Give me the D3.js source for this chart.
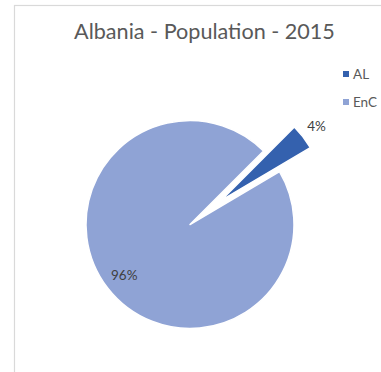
<!DOCTYPE html>
<html>
<head>
<meta charset="utf-8">
<script src="https://cdn.jsdelivr.net/npm/d3@7"></script>
<style>
  html, body { margin: 0; padding: 0; background: #fff; }
  svg { display: block; font-family: Lato, "Open Sans", sans-serif; }
</style>
</head>
<body>
<svg id="chart" width="381" height="372"></svg>
<script>
// Population share, Albania vs. rest of the Energy Community, 2015 (percent)
const categories = ["AL", "EnC"];
const shares = [4, 96];
const labels = ["4%", "96%"];
const colors = ["#3461ae", "#8fa3d5"];
const exploded = [true, false];
const title = "Albania - Population - 2015";

const svg = d3.select("#chart");

// chart area frame
svg.append("rect")
  .attr("x", 14.5).attr("y", 5.5)
  .attr("width", 400).attr("height", 400)
  .attr("fill", "#fff")
  .attr("stroke", "#d9d9d9").attr("stroke-width", 1.2);

// title
svg.append("text")
  .attr("x", 204.5).attr("y", 39)
  .attr("text-anchor", "middle")
  .attr("fill", "#595959")
  .attr("font-size", 21.6)
  .text(title);

const cx = 190, cy = 224.5, radius = 104, explodeBy = 39;
const data = categories.map((c, i) => ({ name: c, value: shares[i], label: labels[i], color: colors[i], exploded: exploded[i] }));

const pie = d3.pie()
  .sort(null)
  .value(d => d.value)
  .startAngle(45 * Math.PI / 180)
  .endAngle(405 * Math.PI / 180);

const arc = d3.arc().innerRadius(0).outerRadius(radius);
const arcs = pie(data);

const offset = a => {
  if (!a.data.exploded) return [0, 0];
  const m = (a.startAngle + a.endAngle) / 2;
  return [explodeBy * Math.sin(m), -explodeBy * Math.cos(m)];
};

const g = svg.append("g").attr("transform", `translate(${cx},${cy})`);

g.selectAll("path.slice")
  .data(arcs)
  .join("path")
  .attr("class", "slice")
  .attr("transform", a => `translate(${offset(a)})`)
  .attr("d", arc)
  .attr("fill", a => a.data.color)
  .attr("stroke", "#fff")
  .attr("stroke-width", 1.5)
  .attr("stroke-linejoin", "round");

// data labels: outside for the exploded slice, inside for the other
g.selectAll("text.dlabel")
  .data(arcs)
  .join("text")
  .attr("class", "dlabel")
  .attr("transform", a => {
    const m = (a.startAngle + a.endAngle) / 2;
    const r = a.data.exploded ? radius * 1.165 : radius * 0.8;
    const [ox, oy] = offset(a);
    return `translate(${ox + r * Math.sin(m)},${oy - r * Math.cos(m)})`;
  })
  .attr("text-anchor", "middle")
  .attr("dy", "0.36em")
  .attr("fill", "#404040")
  .attr("font-size", 13.5)
  .text(a => a.data.label);

// legend
const legend = svg.append("g").attr("transform", "translate(343,71)");
const items = legend.selectAll("g")
  .data(data)
  .join("g")
  .attr("transform", (d, i) => `translate(0,${i * 28})`);
items.append("rect")
  .attr("width", 6).attr("height", 6)
  .attr("fill", d => d.color);
items.append("text")
  .attr("x", 10).attr("y", 8)
  .attr("fill", "#595959")
  .attr("font-size", 13.5)
  .text(d => d.name);
</script>
</body>
</html>
